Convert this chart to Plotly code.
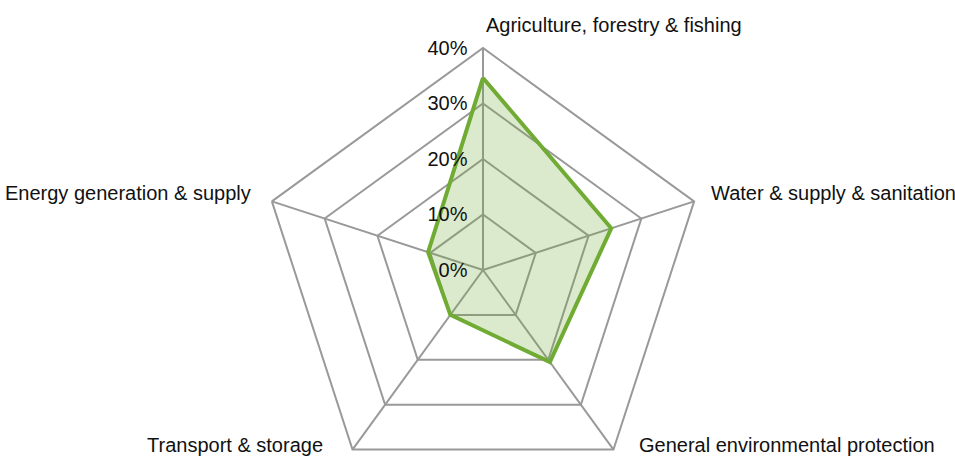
import plotly.graph_objects as go

categories = ["Agriculture, forestry & fishing", "Water & supply & sanitation",
              "General environmental protection", "Transport & storage",
              "Energy generation & supply"]
values = [34.6, 24.3, 20.5, 10.0, 10.4]
tick_vals = [0, 10, 20, 30, 40]
tick_text = ["0%", "10%", "20%", "30%", "40%"]

FONT = "Liberation Sans Narrow, Arial Narrow, Liberation Sans, Arial, sans-serif"
W, H = 955, 500
cx, cy, R = 483, 270, 222

fig = go.Figure()
fig.add_trace(go.Scatterpolar(
    r=values + values[:1], theta=categories + categories[:1],
    mode="lines", fill="toself",
    line=dict(color="#70AB34", width=4),
    fillcolor="rgba(112,171,52,0.25)",
    hoverinfo="skip", showlegend=False,
))

# category label placements (layout only)
label_pos = [(484, 25, "left"), (709, 193, "left"), (637, 445, "left"),
             (325, 445, "right"), (253, 193, "right")]
annotations = []
for name, (px, py, anchor) in zip(categories, label_pos):
    annotations.append(dict(text=name, x=px / W, y=1 - py / H, xref="paper", yref="paper",
                            xanchor=anchor, yanchor="middle", showarrow=False,
                            font=dict(family=FONT, size=20, color="#111111")))

fig.update_layout(
    width=W, height=H,
    margin=dict(l=0, r=0, t=0, b=0),
    paper_bgcolor="white", plot_bgcolor="white",
    font=dict(family=FONT, size=20, color="#111111"),
    polar=dict(
        domain=dict(x=[(cx - R) / W, (cx + R) / W], y=[1 - (cy + R) / H, 1 - (cy - R) / H]),
        gridshape="linear", bgcolor="white",
        radialaxis=dict(range=[0, 40], tickvals=tick_vals, ticktext=tick_text,
                        angle=90, tickangle=90, side="counterclockwise",
                        showline=False, linecolor="#999999",
                        gridcolor="#999999", gridwidth=2,
                        ticks="outside", ticklen=8, tickcolor="rgba(0,0,0,0)",
                        tickfont=dict(family=FONT, size=20, color="#111111")),
        angularaxis=dict(rotation=90, direction="clockwise", showticklabels=False,
                         ticks="", gridcolor="#999999", gridwidth=2,
                         linecolor="#999999", linewidth=2, showline=True),
    ),
    annotations=annotations,
)

fig.write_html("out.html", config={"displayModeBar": False},
               post_script="document.documentElement.style.overflow='hidden';document.body.style.overflow='hidden';document.body.style.margin='0';")
